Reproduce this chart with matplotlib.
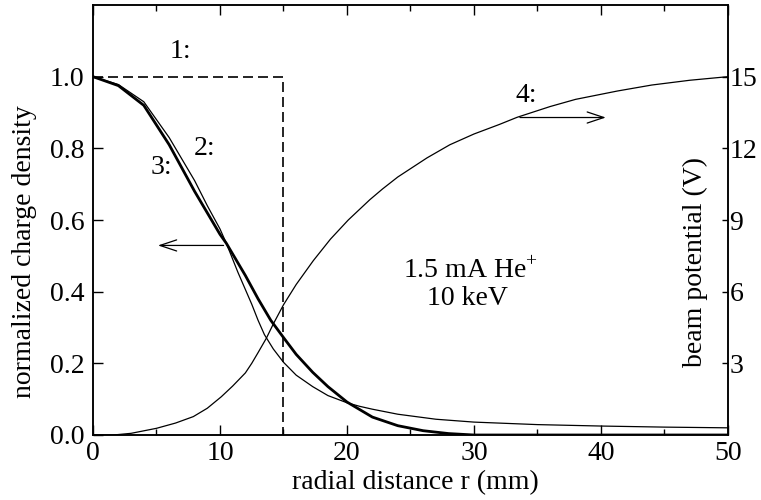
import numpy as np
import matplotlib
matplotlib.use('Agg')
import matplotlib.pyplot as plt

plt.rcParams['font.family'] = ['Liberation Serif', 'DejaVu Serif']
plt.rcParams['mathtext.fontset'] = 'custom'
plt.rcParams['mathtext.rm'] = 'Liberation Serif'
plt.rcParams['font.size'] = 20

# curva 1: distribucion uniforme (escalon)
r1 = [0, 15, 15]
n1 = [1.0, 1.0, 0.0]

# curva 2: densidad (linea fina)
r2 = [0, 2, 4, 6, 8, 9, 10, 10.5, 11.4, 12.5, 13, 13.5, 14.2, 15, 16, 17.3,
      18.5, 20, 21, 22, 24, 27, 30, 35, 40, 45, 50]
n2 = [1.0, 0.978, 0.93, 0.83, 0.71, 0.64, 0.575, 0.535, 0.455, 0.365, 0.32,
      0.28, 0.24, 0.203, 0.167, 0.135, 0.11, 0.09, 0.08, 0.072, 0.058, 0.044,
      0.036, 0.029, 0.025, 0.022, 0.02]

# curva 3: densidad (linea gruesa)
r3 = [0, 2, 4, 6, 8, 10, 10.5, 11, 12, 13, 14, 15, 16, 17.3, 18.5, 20, 22,
      24, 26, 28, 30, 50]
n3 = [1.0, 0.975, 0.92, 0.81, 0.68, 0.56, 0.535, 0.505, 0.445, 0.38, 0.32,
      0.272, 0.225, 0.175, 0.135, 0.092, 0.05, 0.026, 0.012, 0.004, 0.0, 0.0]

# curva 4: potencial del haz [V]
r4 = [0, 1.6, 3, 5, 6.5, 7.9, 9, 10.1, 11, 12, 12.5, 13, 13.65, 14.2, 15, 16,
      17.35, 18.7, 20.1, 21.8, 22.8, 24, 26.3, 28.1, 30, 32, 33.4, 36, 38,
      41.3, 44, 47, 50]
v4 = [0, 0.0, 0.07, 0.28, 0.5, 0.77, 1.12, 1.6, 2.05, 2.6, 3.0, 3.45, 4.05,
      4.65, 5.45, 6.3, 7.3, 8.2, 9.0, 9.85, 10.3, 10.8, 11.6, 12.15, 12.6,
      13.0, 13.3, 13.75, 14.05, 14.4, 14.65, 14.85, 15.0]

fig = plt.figure(figsize=(7.61, 5.0), dpi=100)
ax = fig.add_axes([0.1222, 0.13, 0.8344, 0.86])
ax2 = ax.twinx()

ax.plot(r1, n1, color='black', lw=1.2, dashes=(6, 3))
ax.plot(r2, n2, color='black', lw=0.9)
ax.plot(r3, n3, color='black', lw=2.0)
ax2.plot(r4, v4, color='black', lw=0.9)

ax.set_xlim(0, 50)
ax.set_ylim(0, 1.2)
ax2.set_ylim(0, 18)

ax.set_xticks([0, 10, 20, 30, 40, 50])
ax.set_xticks(np.arange(5, 50, 10), minor=True)
ax.set_yticks([0, 0.2, 0.4, 0.6, 0.8, 1.0])
ax.set_yticklabels(['0.0', '0.2', '0.4', '0.6', '0.8', '1.0'])
ax2.set_yticks([3, 6, 9, 12, 15])

ax.tick_params(axis='x', which='major', direction='in', length=7, width=1,
               top=True, pad=4)
ax.tick_params(axis='x', which='minor', direction='in', length=4, width=1,
               top=True)
ax.tick_params(axis='y', direction='in', length=7.5, width=1, pad=6)
ax2.tick_params(axis='y', direction='in', length=4.5, width=1, pad=1)

for a in (ax, ax2):
    for s in a.spines.values():
        s.set_linewidth(1.1)

ax.set_xlabel('radial distance r (mm)')
ax.xaxis.set_label_coords(0.507, -0.082)
ax.set_ylabel('normalized charge density')
ax.yaxis.set_label_coords(-0.088, 0.426)
ax2.text(0.948, 0.402, 'beam potential (V)', transform=ax2.transAxes,
         rotation=90, ha='center', va='center')

# etiquetas de curvas
ax.text(6.85, 1.07, '1:', ha='center', va='center')
ax.text(8.8, 0.80, '2:', ha='center', va='center')
ax.text(5.4, 0.747, '3:', ha='center', va='center')
ax.text(34.1, 0.947, '4:', ha='center', va='center')

ax.text(29.7, 0.457, r'1.5 mA He$^{+}$', ha='center', va='center')
ax.text(29.5, 0.38, '10 keV', ha='center', va='center')

# flechas
ax.annotate('', xy=(4.9, 0.529), xytext=(10.5, 0.529),
            arrowprops=dict(arrowstyle='->,head_length=0.6,head_width=0.2',
                            color='black', lw=0.9))
ax.annotate('', xy=(40.6, 0.886), xytext=(33.4, 0.886),
            arrowprops=dict(arrowstyle='->,head_length=0.6,head_width=0.2',
                            color='black', lw=0.9))

fig.savefig('out.png', dpi=100)
